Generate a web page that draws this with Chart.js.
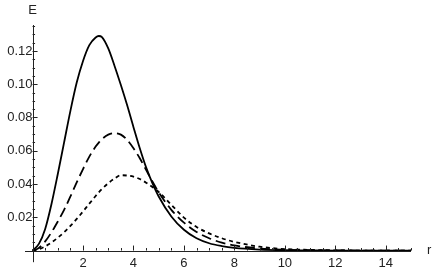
<!DOCTYPE html>
<html>
<head>
<meta charset="utf-8">
<script src="https://cdn.jsdelivr.net/npm/chart.js@4"></script>
<style>
  html, body { margin: 0; padding: 0; background: #fff; }
  #wrap { width: 432px; height: 275px; }
</style>
</head>
<body>
<div id="wrap"><canvas id="myChart"></canvas></div>
<script>
// radius values (shared by all three curves)
var r = [0, 0.25, 0.5, 0.75, 1, 1.25, 1.5, 1.75, 2, 2.25, 2.5, 2.625, 2.75, 3, 3.25, 3.5, 3.75,
         4, 4.25, 4.5, 4.75, 5, 5.5, 6, 6.5, 7, 7.5, 8, 9, 10, 11, 12, 13, 14, 15];

// E
var eSolid = [0, 0.004, 0.013, 0.028, 0.046, 0.065, 0.084, 0.101, 0.114, 0.1235, 0.1281, 0.129, 0.1283,
              0.1215, 0.111, 0.0995, 0.0873, 0.0742, 0.0615, 0.050, 0.0405, 0.0325, 0.0205, 0.0125,
              0.0074, 0.0044, 0.0027, 0.0016, 0.0006, 0.0002, 0.0001, 0, 0, 0, 0];
var eDashed = [0, 0.0015, 0.0055, 0.011, 0.0175, 0.0245, 0.0325, 0.041, 0.049, 0.0565, 0.0625, 0.0649, 0.067,
               0.0697, 0.0706, 0.0697, 0.0665, 0.0615, 0.0555, 0.0485, 0.0415, 0.035, 0.0245, 0.0168,
               0.0112, 0.0074, 0.0048, 0.0031, 0.0012, 0.0005, 0.0002, 0.0001, 0, 0, 0];
var eDotted = [0, 0.0008, 0.0025, 0.0048, 0.0077, 0.011, 0.0148, 0.019, 0.0235, 0.0282, 0.0328, 0.035, 0.037,
               0.0405, 0.0433, 0.0453, 0.0451, 0.0444, 0.0430, 0.0408, 0.0382, 0.0352, 0.0275, 0.0198,
               0.0142, 0.0103, 0.0074, 0.0052, 0.0023, 0.0009, 0.0004, 0.0001, 0, 0, 0];

// tick labels / tick marks
var xTicks = [2, 4, 6, 8, 10, 12, 14];
var yTicks = [0.02, 0.04, 0.06, 0.08, 0.10, 0.12];
var xMinorStep = 0.5;
var yMinorStep = 0.005;

function pts(ys) {
  var out = [];
  for (var i = 0; i < r.length; i++) out.push({x: r[i], y: ys[i]});
  return out;
}

var axisColor = '#222';
var labelFont = {family: "'Liberation Sans', Arial, sans-serif", size: 13};

var axesPlugin = {
  id: 'axes',
  afterDatasetsDraw: function(chart) {
    var c = chart.ctx, xs = chart.scales.x, ys = chart.scales.y;
    var x0 = xs.getPixelForValue(0), y0 = ys.getPixelForValue(0);
    c.save();
    c.strokeStyle = axisColor;
    c.lineWidth = 1;
    c.beginPath();
    c.moveTo(xs.left, Math.round(y0) + 0.5);
    c.lineTo(xs.right, Math.round(y0) + 0.5);
    c.moveTo(Math.round(x0) + 0.5, ys.top);
    c.lineTo(Math.round(x0) + 0.5, ys.bottom);
    // x tick marks (upward)
    for (var v = xMinorStep; v <= xs.max + 1e-9; v += xMinorStep) {
      var px = Math.round(xs.getPixelForValue(v)) + 0.5;
      var len = (Math.abs(v / 2 - Math.round(v / 2)) < 1e-6) ? 5 : 2.5;
      c.moveTo(px, y0);
      c.lineTo(px, y0 - len);
    }
    // y tick marks (rightward)
    for (var w = yMinorStep; w <= ys.max + 1e-9; w += yMinorStep) {
      var py = Math.round(ys.getPixelForValue(w)) + 0.5;
      var major = Math.abs(w / 0.02 - Math.round(w / 0.02)) < 1e-6;
      c.moveTo(x0, py);
      c.lineTo(x0 + (major ? 5 : 2.5), py);
    }
    c.stroke();
    // axis names
    c.fillStyle = '#222';
    c.font = "13px 'Liberation Sans', Arial, sans-serif";
    c.textAlign = 'center';
    c.textBaseline = 'middle';
    c.fillText('E', x0, ys.top - 15);
    c.textAlign = 'left';
    c.fillText('r', xs.right + 16, y0);
    c.restore();
  }
};

var ctx = document.getElementById('myChart');
var myChart = new Chart(ctx, {
  type: 'line',
  data: {
    datasets: [{
      label: 'solid',
      data: pts(eSolid),
      borderColor: '#000',
      borderWidth: 1.8
    }, {
      label: 'dashed',
      data: pts(eDashed),
      borderColor: '#000',
      borderWidth: 1.8,
      borderDash: [10, 5]
    }, {
      label: 'dotted',
      data: pts(eDotted),
      borderColor: '#000',
      borderWidth: 1.8,
      borderDash: [4, 3.5]
    }]
  },
  options: {
    responsive: true,
    maintainAspectRatio: false,
    animation: false,
    layout: {padding: {left: 25, right: 21, top: 25, bottom: 8}},
    elements: {
      point: {radius: 0},
      line: {cubicInterpolationMode: 'monotone', fill: false}
    },
    plugins: {
      legend: {display: false},
      tooltip: {enabled: false}
    },
    scales: {
      x: {
        type: 'linear',
        position: {y: 0},
        min: -0.3,
        max: 15,
        grid: {display: false, drawTicks: false},
        border: {display: false},
        afterBuildTicks: function(axis) {
          axis.ticks = xTicks.map(function(v) { return {value: v}; });
        },
        ticks: {
          autoSkip: false,
          maxRotation: 0,
          padding: 5,
          color: '#222',
          font: labelFont,
          callback: function(v) { return String(v); }
        }
      },
      y: {
        type: 'linear',
        position: {x: 0},
        min: -0.007,
        max: 0.1356,
        grid: {display: false, drawTicks: false},
        border: {display: false},
        afterBuildTicks: function(axis) {
          axis.ticks = yTicks.map(function(v) { return {value: v}; });
        },
        ticks: {
          autoSkip: false,
          padding: 5,
          color: '#222',
          font: labelFont,
          callback: function(v) { return v.toFixed(2); }
        }
      }
    }
  },
  plugins: [axesPlugin]
});
</script>
</body>
</html>
